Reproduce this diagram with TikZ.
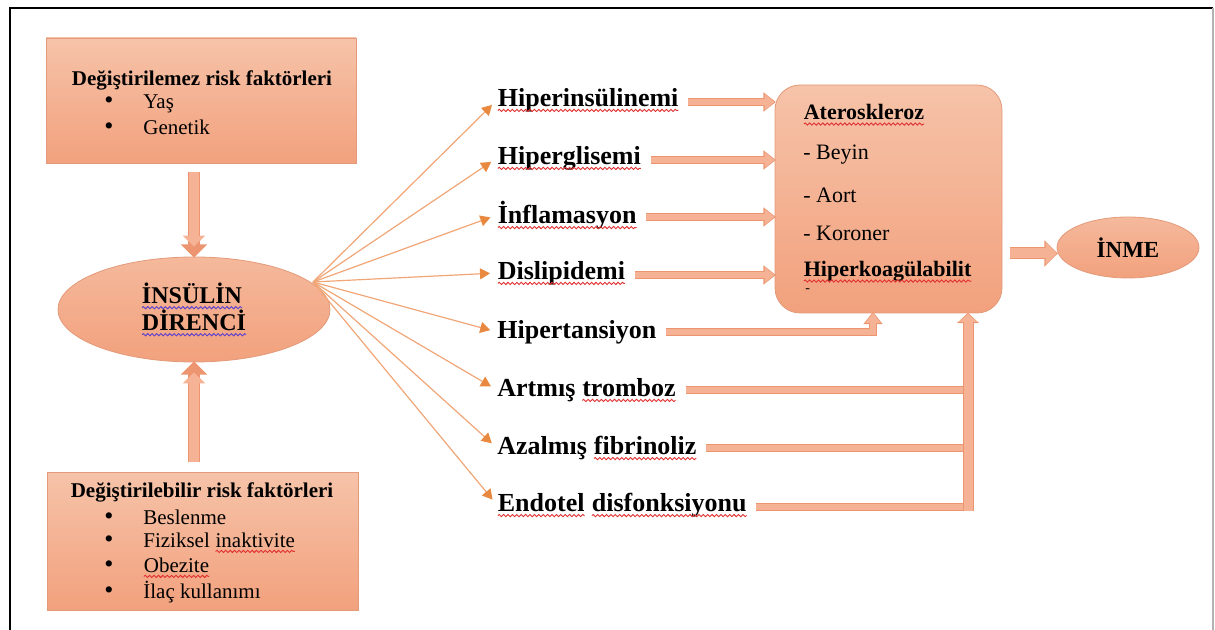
\documentclass[tikz,border=0pt]{standalone}
\usepackage{fontspec}
\setmainfont{Liberation Serif}
\usetikzlibrary{positioning, arrows.meta, shapes.geometric, decorations.pathmorphing}

\definecolor{boxtop}{HTML}{F6C3A9}
\definecolor{boxbot}{HTML}{F2A17D}
\definecolor{boxedge}{HTML}{E39A7A}
\definecolor{fancol}{HTML}{F0A677}
\definecolor{fantip}{HTML}{E8893F}
\definecolor{arrfill}{HTML}{F5B294}
\definecolor{arredge}{HTML}{EC9570}
\definecolor{spellred}{HTML}{E03030}
\definecolor{spellblue}{HTML}{5A3FD0}

\newcommand{\wavyword}[2]{\tikz[baseline=(w.base)]{%
  \node[rectangle, minimum width=0pt, minimum height=0pt, inner sep=0pt, outer sep=0pt,
    anchor=base, draw=none, fill=none] (w) at (0,0) {#2};
  \draw[#1, line width=0.45pt, decorate, decoration={snake, amplitude=0.55pt, segment length=2.2pt}]
    ([yshift=-2.2pt]w.base west) -- ([yshift=-2.2pt]w.base east);}}
\newcommand{\spellwave}[1]{\wavyword{spellred}{#1}}
\newcommand{\grammarwave}[1]{\wavyword{spellblue}{#1}}

\begin{document}
\begin{tikzpicture}[x=0.5pt, y=-0.5pt,
  riskbox/.style={rectangle, draw=boxedge, top color=boxtop, bottom color=boxbot, inner sep=0pt},
  oval/.style={ellipse, draw=boxedge, top color=boxtop!70!boxbot, bottom color=boxbot, inner sep=0pt},
  headtext/.style={font=\fontsize{10.5}{12.5}\selectfont\bfseries, inner sep=0pt},
  itemtext/.style={font=\fontsize{10.5}{12.5}\selectfont, anchor=base west, inner sep=0pt},
  bul/.style={font=\fontsize{13}{14}\selectfont, anchor=base, inner sep=0pt},
  cause/.style={font=\fontsize{13}{15}\selectfont\bfseries, anchor=west, inner sep=0pt},
  boxtext/.style={font=\fontsize{11}{13}\selectfont, anchor=west, inner sep=0pt},
  fanline/.style={draw=fancol, line width=0.6pt, shorten >=3.5pt,
    -{Triangle[length=5pt, width=5.5pt, color=fantip]}},
  feedarrow/.style={draw=arrfill, line width=3.2pt, shorten <=4.5pt,
    -{Triangle[length=5pt, width=7.5pt]},
    preaction={draw=arredge, line width=4.2pt, -{Triangle[length=6.2pt, width=9.3pt]}, shorten >=-0.6pt}},
  feedline/.style={draw=arrfill, line width=3.2pt, shorten <=4.5pt,
    preaction={draw=arredge, line width=4.2pt}},
  uparrow/.style={draw=arrfill, line width=4.5pt,
    -{Triangle[length=4pt, width=9pt]},
    preaction={draw=arredge, line width=5.5pt, -{Triangle[length=5.2pt, width=10.8pt]}, shorten >=-0.6pt}},
  bigarrow/.style={draw=arrfill, line width=5pt,
    -{Triangle[length=5.5pt, width=11pt]},
    preaction={draw=arredge, line width=6pt, -{Triangle[length=6.7pt, width=12.8pt]}, shorten >=-0.6pt}}
]
\useasboundingbox (0,0) rectangle (1215,630);

\draw[line width=1pt] (10,630) -- (10,8) -- (1213,8);
\draw[gray!60, line width=1pt] (1213,8) -- (1213,630);

\node[riskbox, minimum width=155pt, minimum height=62.5pt] (fixbox) at (201,100.5) {};
\node[headtext] (fixhead) at (202,80) {Değiştirilemez risk faktörleri};
\node[bul] (fixb1) at (109,109) {\textbullet};
\node[itemtext] (fixi1) at (143,109) {Yaş};
\node[bul] (fixb2) at (109,135) {\textbullet};
\node[itemtext] (fixi2) at (143,135) {Genetik};

\node[riskbox, minimum width=155.5pt, minimum height=69pt] (modbox) at (202.5,541) {};
\node[headtext] (modhead) at (202,492) {Değiştirilebilir risk faktörleri};
\node[bul] (modb1) at (109,524) {\textbullet};
\node[itemtext] (modi1) at (143,524) {Beslenme};
\node[bul] (modb2) at (109,547) {\textbullet};
\node[itemtext] (modi2) at (143,547) {Fiziksel \spellwave{inaktivite}};
\node[bul] (modb3) at (109,572) {\textbullet};
\node[itemtext] (modi3) at (143,572) {\spellwave{Obezite}};
\node[bul] (modb4) at (109,598) {\textbullet};
\node[itemtext] (modi4) at (143,598) {İlaç kullanımı};

\node[oval, minimum width=136pt, minimum height=52.5pt, align=left,
  font=\fontsize{12}{13.5}\selectfont\bfseries] (ir) at (194,309.5)
  {\grammarwave{İNSÜLİN}\\\grammarwave{DİRENCİ}};

\draw[bigarrow, shorten <=4.5pt, shorten >=5pt] (ir.north |- fixbox.south) -- (ir.north);
\draw[bigarrow, shorten <=5pt, shorten >=5pt] (ir.south |- modbox.north) -- (ir.south);

\node[cause] (hins) at (497,100) {\spellwave{Hiperinsülinemi}};
\node[cause] (hgly) at (497,158) {\spellwave{Hiperglisemi}};
\node[cause] (infl) at (497,215) {\spellwave{İnflamasyon}};
\node[cause] (disl) at (497,273) {\spellwave{Dislipidemi}};
\node[cause] (htn) at (497,332) {Hipertansiyon};
\node[cause] (trom) at (497,390) {Artmış \spellwave{tromboz}};
\node[cause] (fibr) at (497,448) {Azalmış \spellwave{fibrinoliz}};
\node[cause] (endo) at (497,505) {\spellwave{Endotel} \spellwave{disfonksiyonu}};

\coordinate (fan) at (313,282);
\draw[fanline] (fan) -- (hins.west);
\draw[fanline] (fan) -- (hgly.west);
\draw[fanline] (fan) -- (infl.west);
\draw[fanline] (fan) -- (disl.west);
\draw[fanline] (fan) -- (htn.west);
\draw[fanline] (fan) -- (trom.west);
\draw[fanline] (fan) -- (fibr.west);
\draw[fanline] (fan) -- (endo.west);

\node[riskbox, rounded corners=12.5pt, minimum width=113.5pt, minimum height=114pt] (athbox) at (888.5,199) {};
\node[boxtext, font=\fontsize{11}{13}\selectfont\bfseries] (ather) at (803,115) {\spellwave{Ateroskleroz}};
\node[boxtext] (beyin) at (803,155) {- Beyin};
\node[boxtext] (aort) at (803,195) {- Aort};
\node[boxtext] (koroner) at (803,233) {- Koroner};
\node[boxtext, font=\fontsize{11}{13}\selectfont\bfseries] (hkoag) at (803,272) {\spellwave{Hiperkoagülabilit}};
\node[boxtext, font=\fontsize{7}{8}\selectfont] (hdash) at (805,291) {-};

\draw[feedarrow] ([yshift=-1pt]hins.east) -- ([yshift=-1pt]hins.east -| athbox.west);
\draw[feedarrow] ([yshift=-1pt]hgly.east) -- ([yshift=-1pt]hgly.east -| athbox.west);
\draw[feedarrow] ([yshift=-1pt]infl.east) -- ([yshift=-1pt]infl.east -| athbox.west);
\draw[feedarrow] ([yshift=-1pt]disl.east) -- ([yshift=-1pt]disl.east -| athbox.west);

\coordinate (htnin) at (873,313);
\draw[feedarrow] (htn.east) -| (htnin);

\coordinate (col) at (968,314);
\draw[feedline] (trom.east) -- (trom.east -| col);
\draw[feedline] (fibr.east) -- (fibr.east -| col);
\draw[feedline] ([yshift=-1pt]endo.east) -- ([yshift=-1pt]endo.east -| col);
\draw[uparrow] ([yshift=-3pt]endo.east -| col) -- (col);

\node[oval, minimum width=71pt, minimum height=30.5pt,
  font=\fontsize{11.5}{13}\selectfont\bfseries] (inme) at (1128,247.5) {İNME};
\draw[bigarrow, shorten <=4pt] ([yshift=-3pt]inme.west -| athbox.east) -- ([yshift=-3pt]inme.west);
\end{tikzpicture}
\end{document}
